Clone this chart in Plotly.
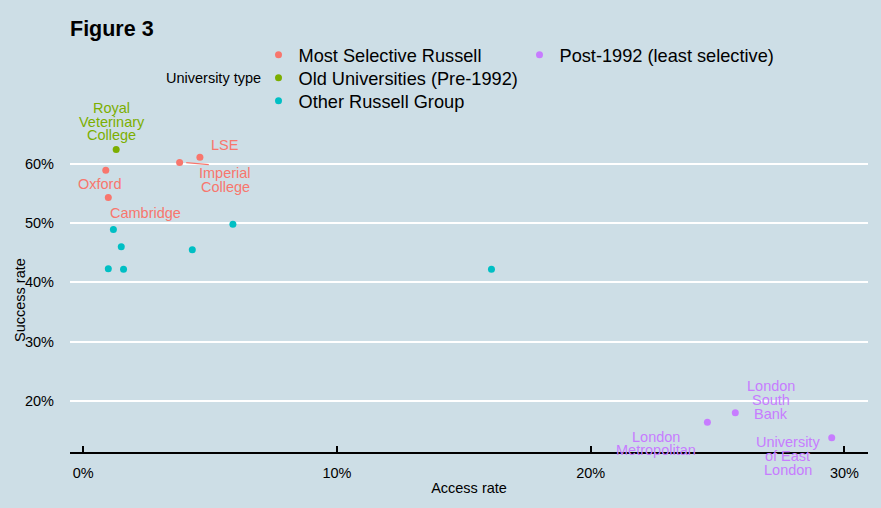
import plotly.graph_objects as go

# ---- data (percentages) ----
groups = ["Most Selective Russell", "Old Universities (Pre-1992)", "Other Russell Group", "Post-1992 (least selective)"]
colors = ["#F8766D", "#7CAE00", "#00BFC4", "#C77CFF"]

msr_names = ["Oxford", "Cambridge", "Imperial College", "LSE"]
msr_access = [0.89, 0.99, 3.80, 4.60]
msr_success = [58.9, 54.3, 60.2, 61.1]

old_names = ["Royal Veterinary College"]
old_access = [1.30]
old_success = [62.4]

orf_names = ["", "", "", "", "", "", ""]
orf_access = [1.19, 5.90, 1.50, 4.30, 0.99, 1.59, 16.09]
orf_success = [48.9, 49.8, 46.0, 45.5, 42.3, 42.2, 42.2]

p92_names = ["London Metropolitan", "London South Bank", "University of East London"]
p92_access = [24.60, 25.70, 29.50]
p92_success = [16.4, 18.0, 13.8]

x_ticks = [0, 10, 20, 30]
y_ticks = [20, 30, 40, 50, 60]

# ---- label placement (styling, not data): lines, x, y-centre, colour ----
labels = [
    (["Royal", "Veterinary", "College"], 1.13, 67.1, colors[1]),
    (["LSE"], 5.57, 63.1, colors[0]),
    (["Imperial", "College"], 5.60, 57.2, colors[0]),
    (["Oxford"], 0.67, 56.6, colors[0]),
    (["Cambridge"], 2.47, 51.7, colors[0]),
    (["London", "South", "Bank"], 27.09, 20.2, colors[3]),
    (["London", "Metropolitan"], 22.56, 12.8, colors[3]),
    (["University", "of East", "London"], 27.76, 10.75, colors[3]),
]

FONT = "Liberation Sans, Arial, Helvetica, sans-serif"
BG = "#cddee6"
L, R, T, B = 70, 13, 135, 56
PW, PH = 881 - L - R, 508 - T - B
X_RANGE = [-0.52, 30.93]
Y_RANGE = [11.38, 64.84]
PX_PER_Y = PH / (Y_RANGE[1] - Y_RANGE[0])
LINE_GAP = 13.8

def px_x(p):
    return (p - L) / PW

def px_y(p):
    return (508 - B - p) / PH

fig = go.Figure()
series = [
    (msr_access, msr_success, msr_names),
    (old_access, old_success, old_names),
    (orf_access, orf_success, orf_names),
    (p92_access, p92_success, p92_names),
]
legend_ids = ["legend", "legend2", "legend3", "legend4"]
for i, (xs, ys, names) in enumerate(series):
    fig.add_trace(go.Scatter(
        x=xs, y=ys, text=names, mode="markers", name=groups[i],
        marker=dict(color=colors[i], size=7),
        legend=legend_ids[i],
        hovertemplate="%{text}<br>Access %{x}%<br>Success %{y}%<extra></extra>",
    ))

for lines, x, yc, c in labels:
    anchor = min(max(yc, Y_RANGE[0] + 0.8), Y_RANGE[1] - 0.8)
    base = (yc - anchor) * PX_PER_Y
    n = len(lines)
    for k, line in enumerate(lines):
        shift = base + ((n - 1) / 2 - k) * LINE_GAP
        fig.add_annotation(x=x, y=anchor, text=line, showarrow=False, xref="x", yref="y",
                           yshift=shift, yanchor="middle", xanchor="center", borderpad=0,
                           font=dict(family=FONT, size=14.5, color=c))

# segment from Imperial College point to its label
fig.add_shape(type="line", x0=4.06, y0=60.17, x1=4.95, y1=59.83, xref="x", yref="y",
              line=dict(color=colors[0], width=1.2))

fig.add_annotation(text="University type", xref="paper", yref="paper",
                   x=px_x(263), y=px_y(78), xanchor="right", yanchor="middle",
                   showarrow=False, font=dict(family=FONT, size=14.5, color="black"))

# y-axis title
fig.add_annotation(text="Success rate", xref="paper", yref="paper",
                   x=px_x(20), y=px_y(300), xanchor="center", yanchor="middle", textangle=-90,
                   showarrow=False, font=dict(family=FONT, size=14.5, color="black"))

leg_common = dict(xanchor="left", yanchor="middle", orientation="v", bgcolor="rgba(0,0,0,0)",
                  font=dict(size=18.2, family=FONT, color="black"))
legend_pos = {"legend": (258.5, 55), "legend2": (258.5, 78), "legend3": (258.5, 101), "legend4": (519.5, 55)}

fig.update_layout(
    width=881, height=508,
    paper_bgcolor=BG, plot_bgcolor=BG,
    margin=dict(l=L, r=R, t=T, b=B, autoexpand=False),
    font=dict(family=FONT, color="black"),
    title=dict(text="<b>Figure 3</b>", x=0, xref="paper", xanchor="left",
               y=1 - 28 / 508, yanchor="middle", yref="container",
               font=dict(family=FONT, size=21.5, color="black")),
    showlegend=True,
    xaxis=dict(range=X_RANGE, tickvals=x_ticks, ticktext=[f"{v}%" for v in x_ticks],
               showgrid=False, zeroline=False, showline=True, linecolor="black", linewidth=1.5,
               ticks="inside", ticklen=6, tickcolor="black", tickwidth=1.5, automargin=False,
               tickfont=dict(size=14.5), ticklabelstandoff=7,
               title=dict(text="Access rate", font=dict(size=14.5), standoff=3)),
    yaxis=dict(range=Y_RANGE, tickvals=y_ticks, ticktext=[f"{v}%" for v in y_ticks],
               showgrid=True, gridcolor="white", gridwidth=2, zeroline=False, showline=False,
               ticks="", tickfont=dict(size=14.5), ticklabelstandoff=15, automargin=False),
)
for lid, (xp, yp) in legend_pos.items():
    fig.update_layout({lid: dict(x=px_x(xp), y=px_y(yp), **leg_common)})

fig.write_html("out.html", config={"displayModeBar": False},
               post_script="document.body.style.margin='0';document.body.style.overflow='hidden';")
